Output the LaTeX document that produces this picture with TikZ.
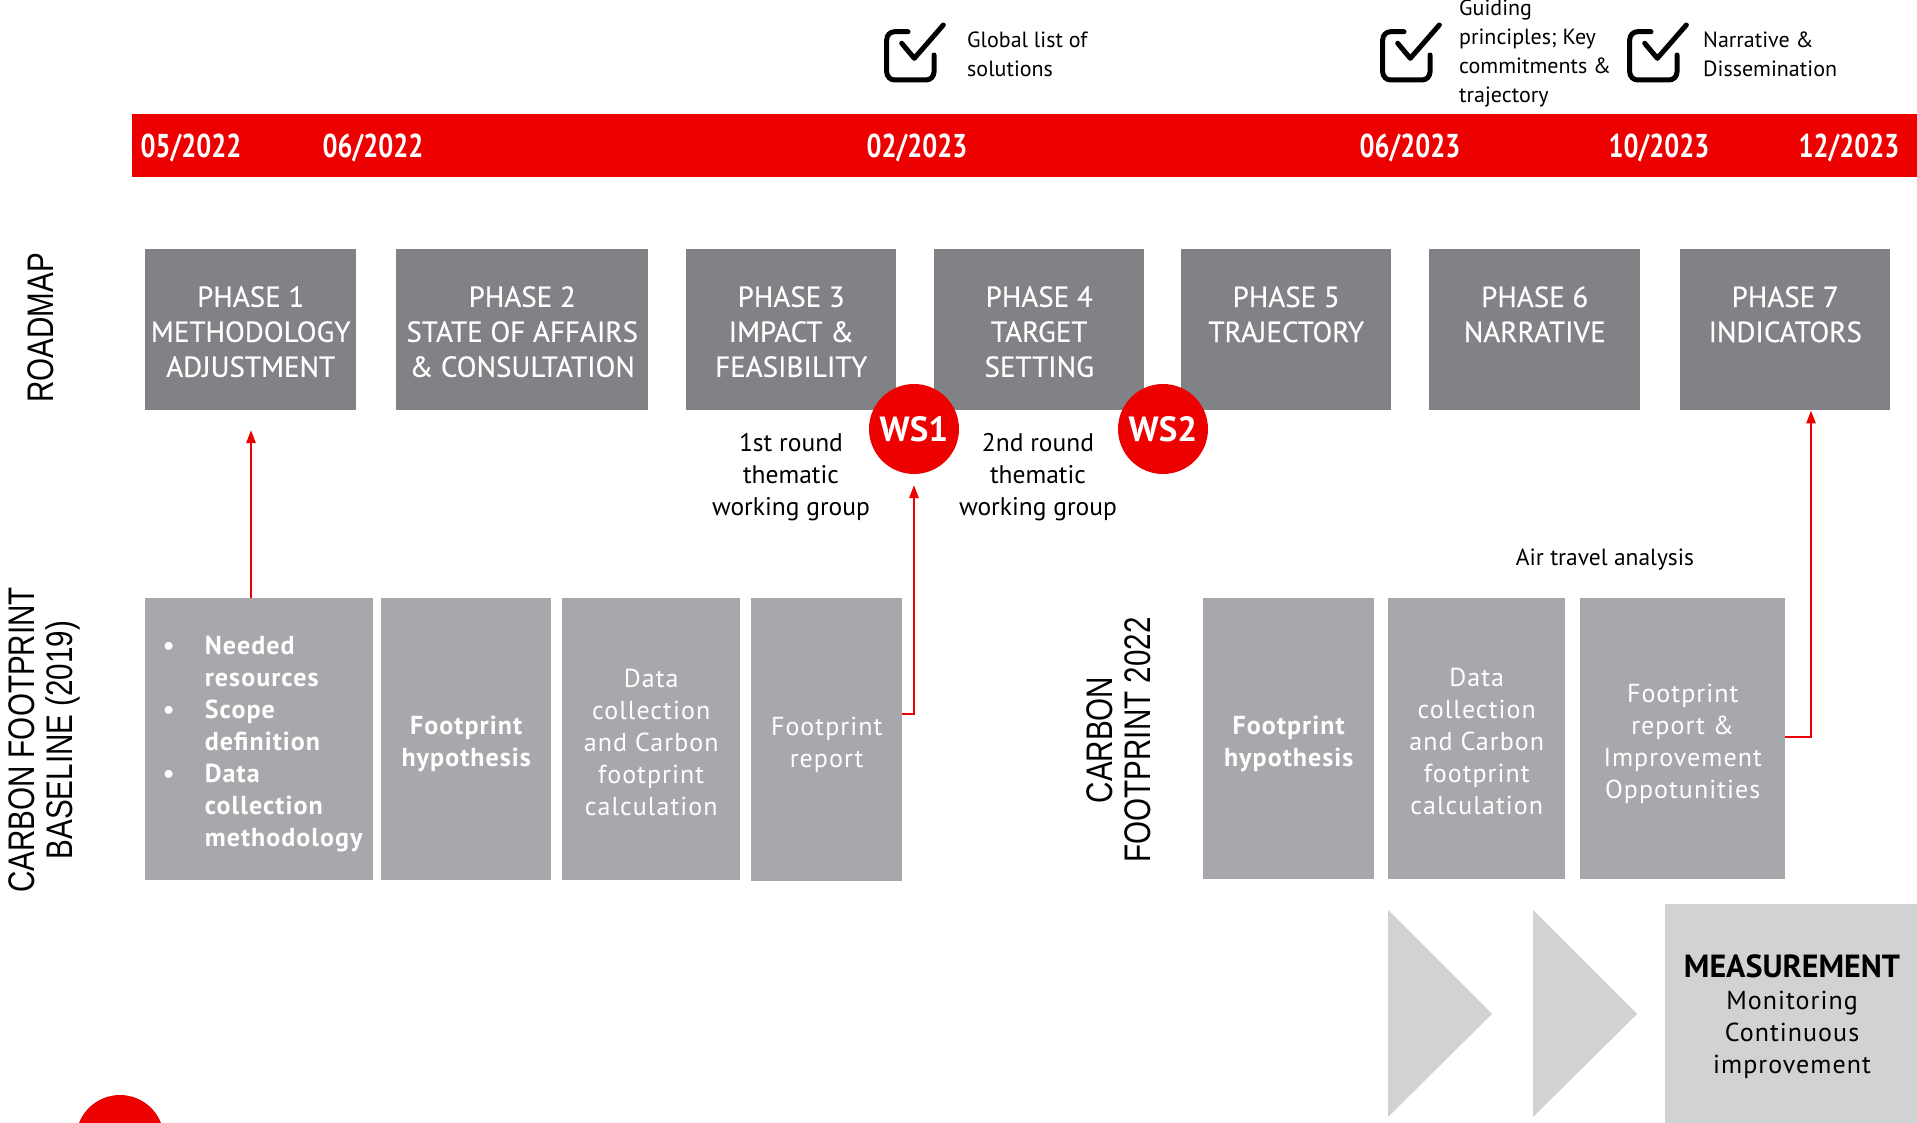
\documentclass[tikz,border=0pt]{standalone}
\usepackage{fontspec}
\setmainfont{PT Sans}
\newfontfamily\phasefont[FakeBold=0.4]{PT Sans}
\newfontfamily\datefont[FakeStretch=0.8]{PT Sans}
\newfontfamily\boxfont[LetterSpace=4]{PT Sans}
\newfontfamily\arialfont[FakeStretch=0.8]{Liberation Sans}
\usetikzlibrary{arrows.meta}
\definecolor{barred}{HTML}{EC0000}
\definecolor{phgray}{HTML}{818285}
\definecolor{bxgray}{HTML}{A7A8AB}
\definecolor{ltgray}{HTML}{D1D2D4}
\tikzset{
  phasebox/.style={fill=phgray, inner sep=0pt, anchor=north west, minimum height=161},
  phasetext/.style={text=white, inner sep=0pt, align=center, font=\phasefont\fontsize{29}{35}\selectfont},
  cfbox/.style={fill=bxgray, inner sep=0pt, anchor=north west, minimum height=282},
  cftext/.style={text=white, inner sep=0pt, align=center, font=\boxfont\fontsize{26}{32}\selectfont},
  cfbold/.style={cftext, font=\boxfont\bfseries\fontsize{26}{32}\selectfont},
  datelbl/.style={text=white, font=\datefont\bfseries\fontsize{33}{36}\selectfont, inner sep=0pt},
  toptext/.style={align=left, anchor=west, inner sep=0pt, font=\fontsize{22}{29}\selectfont},
  roundtext/.style={align=center, inner sep=0pt, font=\fontsize{25.5}{32}\selectfont},
  sidelbl/.style={rotate=90, align=center, inner sep=0pt, font=\arialfont\fontsize{37}{38}\selectfont},
  wscirc/.style={circle, fill=barred, text=white, minimum size=90, inner sep=0pt,
    font=\bfseries\fontsize{35}{36}\selectfont},
  arr/.style={draw=barred, line width=2.5, -{Triangle[length=13, width=9]}},
  chkmark/.pic={
    \draw[line width=5, line cap=round, rounded corners=8]
      (25,7.7) -- (3.7,7.7) -- (3.7,56) -- (51,56) -- (51,31);
    \draw[line width=5, line cap=round, line join=round]
      (18.7,19.3) -- (31.3,34.3) -- (60.3,1);
  }
}
\begin{document}
\begin{tikzpicture}[x=1pt,y=-1pt]
\clip (0,0) rectangle (1917,1123);
\useasboundingbox (0,0) rectangle (1917,1123);
\fill[white] (0,0) rectangle (1917,1123);

% top milestones
\pic at (883,24) {chkmark};
\node[toptext] (m1) at (967,54) {Global list of\\solutions};
\pic at (1379,24) {chkmark};
\node[toptext] (m2) at (1459,54) {Guiding\\principles; Key\\commitments \&\\trajectory};
\pic at (1626,24) {chkmark};
\node[toptext] (m3) at (1703,54) {Narrative \&\\Dissemination};

% timeline bar
\node[fill=barred, anchor=north west, minimum width=1785, minimum height=63, inner sep=0pt] (bar) at (132,114) {};
\node[datelbl] (d1) at (191,148) {05/2022};
\node[datelbl] (d2) at (373,148) {06/2022};
\node[datelbl] (d3) at (917,148) {02/2023};
\node[datelbl] (d4) at (1410,148) {06/2023};
\node[datelbl] (d5) at (1659,148) {10/2023};
\node[datelbl] (d6) at (1849,148) {12/2023};

% roadmap
\node[sidelbl] (roadmap) at (41,328) {ROADMAP};
\node[phasebox, minimum width=211] (p1) at (145,249) {};
\node[phasebox, minimum width=252] (p2) at (396,249) {};
\node[phasebox, minimum width=210] (p3) at (686,249) {};
\node[phasebox, minimum width=210] (p4) at (934,249) {};
\node[phasebox, minimum width=210] (p5) at (1181,249) {};
\node[phasebox, minimum width=211] (p6) at (1429,249) {};
\node[phasebox, minimum width=210] (p7) at (1680,249) {};
\node[phasetext] (p1t) at ([yshift=-2pt]p1.center) {PHASE 1\\METHODOLOGY\\ADJUSTMENT};
\node[phasetext] (p2t) at ([yshift=-2pt]p2.center) {PHASE 2\\STATE OF AFFAIRS\\\& CONSULTATION};
\node[phasetext] (p3t) at ([yshift=-2pt]p3.center) {PHASE 3\\IMPACT \&\\FEASIBILITY};
\node[phasetext] (p4t) at ([yshift=-2pt]p4.center) {PHASE 4\\TARGET\\SETTING};
\node[phasetext] (p5t) at ([yshift=-2pt]p5.center) {PHASE 5\\TRAJECTORY\\\mbox{}};
\node[phasetext] (p6t) at ([yshift=-2pt]p6.center) {PHASE 6\\NARRATIVE\\\mbox{}};
\node[phasetext] (p7t) at ([yshift=-2pt]p7.center) {PHASE 7\\INDICATORS\\\mbox{}};

\node[wscirc] (ws1) at (914,429) {WS1};
\node[wscirc] (ws2) at (1163,429) {WS2};
\node[roundtext] (r1) at (791,477) {1st round\\thematic\\working group};
\node[roundtext] (r2) at (1038,477) {2nd round\\thematic\\working group};

% baseline 2019
\node[sidelbl] (base) at (44,740) {CARBON FOOTPRINT\\BASELINE (2019)};
\node[cfbox, minimum width=228] (b1) at (145,598) {};
\node[cfbox, minimum width=170] (b2) at (381,598) {};
\node[cfbox, minimum width=178] (b3) at (562,598) {};
\node[cfbox, minimum width=151, minimum height=283] (b4) at (751,598) {};
\node[cfbold] (b1t) at ([xshift=2pt,yshift=-5pt]b1.center)
  {\begin{tabular}{@{}p{45pt}@{}l@{}}
   \hspace{3pt}\textbullet & Needed\\ & resources\\
   \hspace{3pt}\textbullet & Scope\\ & definition\\
   \hspace{3pt}\textbullet & Data\\ & collection\\ & methodology
   \end{tabular}};
\node[cfbold] (b2t) at ([yshift=-5pt]b2.center) {Footprint\\hypothesis};
\node[cftext] (b3t) at ([yshift=-3pt]b3.center) {Data\\collection\\and Carbon\\footprint\\calculation};
\node[cftext] (b4t) at ([yshift=-5pt]b4.center) {Footprint\\report};

% carbon footprint 2022
\node[sidelbl] (cf22) at (1119,740) {CARBON\\FOOTPRINT 2022};
\node[inner sep=0pt, font=\fontsize{23.5}{28}\selectfont] (air) at (1605,560) {Air travel analysis};
\node[cfbox, minimum width=171, minimum height=281] (c1) at (1203,598) {};
\node[cfbox, minimum width=177, minimum height=281] (c2) at (1388,598) {};
\node[cfbox, minimum width=205, minimum height=281] (c3) at (1580,598) {};
\node[cfbold] (c1t) at ([yshift=-5pt]c1.center) {Footprint\\hypothesis};
\node[cftext] (c2t) at ([yshift=-3pt]c2.center) {Data\\collection\\and Carbon\\footprint\\calculation};
\node[cftext] (c3t) at ([yshift=-5pt]c3.center) {Footprint\\report \&\\Improvement\\Oppotunities};

% arrows
\coordinate (a1) at (251,430);
\draw[arr] (b1.north -| a1) -- (a1);
\coordinate (a2c) at (914,714);
\coordinate (a2e) at (914,485);
\draw[arr] (b4.east |- a2c) -- (a2c) -- (a2e);
\coordinate (a3c) at (1811,737);
\draw[arr] (c3.east |- a3c) -- (a3c) -- (p7.south -| a3c);

% measurement
\fill[ltgray] (1388,910) -- (1492,1014) -- (1388,1117) -- cycle;
\fill[ltgray] (1533,910) -- (1637,1014) -- (1533,1117) -- cycle;
\node[fill=ltgray, anchor=north west, minimum width=252, minimum height=219, inner sep=0pt] (meas) at (1665,904) {};
\node[align=center, inner sep=0pt, font=\boxfont\fontsize{26}{32}\selectfont] (meastxt) at (1792,1017)
  {{\fontspec{PT Sans}\bfseries\fontsize{32}{32}\selectfont MEASUREMENT}\\Monitoring\\Continuous\\improvement};

% red dot bottom left
\fill[barred] (120,1139) circle (44);
\end{tikzpicture}
\end{document}
